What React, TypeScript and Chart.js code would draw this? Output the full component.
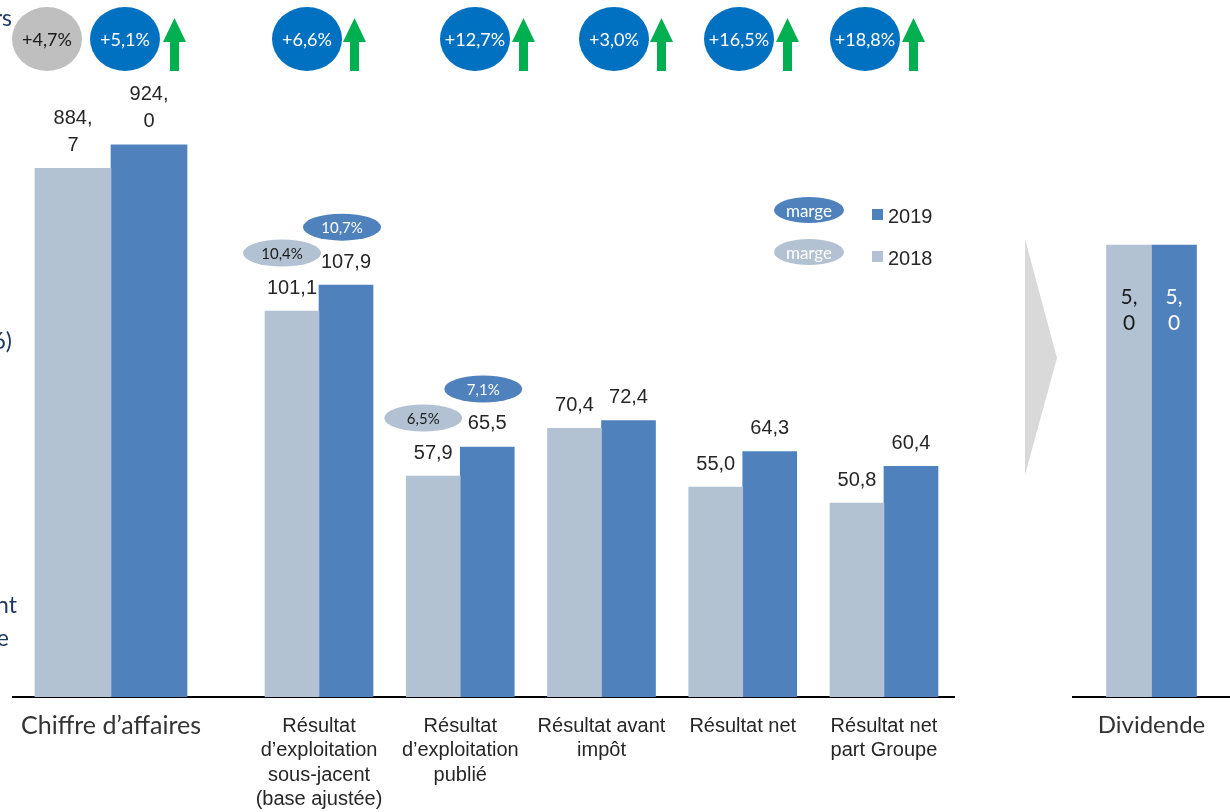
import React, { useEffect, useRef } from 'react';
import { Chart, registerables } from 'chart.js';

Chart.register(...registerables);

// ---------- data ----------
const caCategories = ['Chiffre d’affaires'];
const ca2018 = [884.7];
const ca2019 = [924.0];

const resultCategories = [
  ['Résultat', 'd’exploitation', 'sous-jacent', '(base ajustée)'],
  ['Résultat', 'd’exploitation', 'publié'],
  ['Résultat avant', 'impôt'],
  ['Résultat net'],
  ['Résultat net', 'part Groupe'],
];
const result2018 = [101.1, 57.9, 70.4, 55.0, 50.8];
const result2019 = [107.9, 65.5, 72.4, 64.3, 60.4];
const marge2018 = ['10,4%', '6,5%', null, null, null];
const marge2019 = ['10,7%', '7,1%', null, null, null];

const dividendCategories = ['Dividende'];
const dividend2018 = [5.0];
const dividend2019 = [5.0];

const growthPrevious = '+4,7%';
const growthLabels = ['+5,1%', '+6,6%', '+12,7%', '+3,0%', '+16,5%', '+18,8%'];

const seriesNames = ['2019', '2018'];

// ---------- styles / layout ----------
const C2018 = '#b3c2d3';
const C2019 = '#4f81bd';
const CIRCLE_BLUE = '#0070c0';
const CIRCLE_GREY = '#bfbfbf';
const GREEN = '#00b050';
const TEXT = '#262626';
const CAL = 'Lato, "Open Sans", sans-serif';
const ARIAL = '"Liberation Sans", Arial, sans-serif';

const growthCenters = [125, 307, 475, 614, 739, 865];
const arrowLefts = [163, 343, 512, 650, 776, 902];

const fmt = (v: number) => v.toFixed(1).replace('.', ',');

const barLabelsPlugin = {
  id: 'barLabels',
  afterDatasetsDraw(chart: any, _args: any, opts: any) {
    if (!opts || !opts.enabled) return;
    const ctx = chart.ctx;
    chart.data.datasets.forEach((ds: any, di: number) => {
      const meta = chart.getDatasetMeta(di);
      meta.data.forEach((bar: any, i: number) => {
        const v = ds.data[i];
        if (v == null) return;
        const text = fmt(v);
        const parts = text.split(',');
        const lines = opts.split ? [parts[0] + ',', parts[1]] : [text];
        ctx.save();
        ctx.font = opts.font;
        ctx.fillStyle = opts.colors ? opts.colors[di] : TEXT;
        ctx.textAlign = 'center';
        ctx.textBaseline = 'middle';
        const x = bar.x;
        const y = bar.y;
        if (opts.mode === 'above') {
          lines.forEach((ln: string, k: number) =>
            ctx.fillText(ln, x, y - opts.offset - (lines.length - 1 - k) * opts.lineHeight)
          );
        } else {
          lines.forEach((ln: string, k: number) =>
            ctx.fillText(ln, x, y + opts.offset + k * opts.lineHeight)
          );
        }
        const marges = opts.marges ? opts.marges[di] : null;
        if (marges && marges[i]) {
          const cx = x + opts.margeDx[di];
          const cy = y - 58;
          ctx.beginPath();
          ctx.ellipse(cx, cy, 39, 13.5, 0, 0, Math.PI * 2);
          ctx.fillStyle = opts.margeFill[di];
          ctx.fill();
          ctx.fillStyle = opts.margeText[di];
          ctx.font = '15px ' + CAL;
          ctx.fillText(marges[i], cx, cy + 1);
        }
        ctx.restore();
      });
    });
  },
};

function makeConfig(
  labels: any[],
  d2018: number[],
  d2019: number[],
  thickness: number,
  yMax: number,
  padLeft: number,
  padRight: number,
  tickFont: any,
  tickPadding: number,
  tickColor: string,
  labelOpts: any
): any {
  return {
    type: 'bar',
    data: {
      labels,
      datasets: [
        { label: '2018', data: d2018, backgroundColor: C2018, barThickness: thickness },
        { label: '2019', data: d2019, backgroundColor: C2019, barThickness: thickness },
      ],
    },
    plugins: [barLabelsPlugin],
    options: {
      responsive: false,
      animation: false,
      layout: { padding: { left: padLeft, right: padRight, top: 0, bottom: 0 } },
      plugins: {
        legend: { display: false },
        tooltip: { enabled: false },
        barLabels: labelOpts,
      },
      scales: {
        x: {
          grid: { display: false, drawTicks: false },
          border: { display: true, color: '#000', width: 2 },
          ticks: {
            font: tickFont,
            color: tickColor,
            padding: tickPadding,
            autoSkip: false,
            maxRotation: 0,
            minRotation: 0,
          },
          afterFit: (s: any) => {
            s.height = 115;
          },
        },
        y: { display: false, min: 0, max: yMax },
      },
    },
  };
}

function ChartCanvas({ left, width, config }: { left: number; width: number; config: any }) {
  const ref = useRef<HTMLCanvasElement>(null);
  useEffect(() => {
    if (!ref.current) return;
    const chart = new Chart(ref.current, config);
    return () => chart.destroy();
  }, []);
  return (
    <canvas
      ref={ref}
      width={width}
      height={812}
      style={{ position: 'absolute', left, top: 0, width, height: 812 }}
    />
  );
}

const caConfig = makeConfig(
  caCategories,
  ca2018,
  ca2019,
  76,
  1166.2,
  13,
  21,
  { family: CAL, size: 25, lineHeight: 1.2 },
  14,
  '#333333',
  { enabled: true, mode: 'above', split: true, offset: 23, lineHeight: 27, font: '20px ' + ARIAL }
);

const resultConfig = makeConfig(
  resultCategories,
  result2018,
  result2019,
  54,
  182.6,
  18.4,
  15.4,
  { family: ARIAL, size: 20, lineHeight: 1.22 },
  17,
  TEXT,
  {
    enabled: true,
    mode: 'above',
    split: false,
    offset: 23,
    lineHeight: 27,
    font: '20px ' + ARIAL,
    marges: [marge2018, marge2019],
    margeDx: [-10, -4],
    margeFill: [C2018, C2019],
    margeText: ['#1a1a1a', '#ffffff'],
  }
);

const dividendConfig = makeConfig(
  dividendCategories,
  dividend2018,
  dividend2019,
  45,
  7.71,
  13,
  0,
  { family: CAL, size: 24, lineHeight: 1.2 },
  14,
  '#333333',
  {
    enabled: true,
    mode: 'inside',
    split: true,
    offset: 52,
    lineHeight: 26,
    font: '21px ' + CAL,
    colors: ['#1a1a1a', '#ffffff'],
  }
);

function Circle({ cx, text, bg, color }: { cx: number; text: string; bg: string; color: string }) {
  return (
    <div
      style={{
        position: 'absolute',
        left: cx - 35,
        top: 7,
        width: 70,
        height: 64,
        borderRadius: '50%',
        background: bg,
        color,
        display: 'flex',
        alignItems: 'center',
        justifyContent: 'center',
        fontFamily: CAL,
        fontSize: 18,
      }}
    >
      {text}
    </div>
  );
}

function Fragment({ right, cy, text }: { right: number; cy: number; text: string }) {
  return (
    <div
      style={{
        position: 'absolute',
        left: right - 200,
        width: 200,
        top: cy - 15,
        height: 30,
        lineHeight: '30px',
        textAlign: 'right',
        fontFamily: CAL,
        fontSize: 23,
        color: '#1f3864',
        whiteSpace: 'nowrap',
      }}
    >
      {text}
    </div>
  );
}

export default function App() {
  const arrowPoints = (a: number) =>
    [
      [a, 42],
      [a + 11.5, 18],
      [a + 23, 42],
      [a + 16, 42],
      [a + 16, 71],
      [a + 7, 71],
      [a + 7, 42],
    ]
      .map((p) => p.join(','))
      .join(' ');

  return (
    <div
      style={{
        position: 'fixed',
        left: 0,
        top: 0,
        width: 1230,
        height: 812,
        overflow: 'hidden',
        background: '#ffffff',
      }}
    >
      <ChartCanvas left={0} width={230} config={caConfig} />
      <ChartCanvas left={230} width={740} config={resultConfig} />
      <ChartCanvas left={1060} width={170} config={dividendConfig} />

      {/* baseline joining the two left charts */}
      <div style={{ position: 'absolute', left: 208, top: 696, width: 42, height: 2, background: '#000' }} />

      <svg
        width={1230}
        height={812}
        style={{ position: 'absolute', left: 0, top: 0, pointerEvents: 'none' }}
      >
        {arrowLefts.map((a, i) => (
          <polygon key={i} points={arrowPoints(a)} fill={GREEN} />
        ))}
        <polygon points="1025,239 1057,358 1025,475" fill="#d9d9d9" />
      </svg>

      <Circle cx={47} text={growthPrevious} bg={CIRCLE_GREY} color="#1a1a1a" />
      {growthLabels.map((g, i) => (
        <Circle key={i} cx={growthCenters[i]} text={g} bg={CIRCLE_BLUE} color="#ffffff" />
      ))}

      {/* legend */}
      {seriesNames.map((name, i) => {
        const cy = i === 0 ? 210 : 252;
        const col = name === '2019' ? C2019 : C2018;
        return (
          <React.Fragment key={name}>
            <div
              style={{
                position: 'absolute',
                left: 774,
                top: cy - 13,
                width: 70,
                height: 26,
                borderRadius: '50%',
                background: col,
                color: '#fff',
                fontFamily: CAL,
                fontSize: 17,
                display: 'flex',
                alignItems: 'center',
                justifyContent: 'center',
              }}
            >
              marge
            </div>
            <div
              style={{
                position: 'absolute',
                left: 872,
                top: cy - 1,
                width: 11,
                height: 11,
                background: col,
              }}
            />
            <div
              style={{
                position: 'absolute',
                left: 888,
                top: cy - 9,
                height: 30,
                lineHeight: '30px',
                fontFamily: ARIAL,
                fontSize: 20,
                color: TEXT,
              }}
            >
              {name}
            </div>
          </React.Fragment>
        );
      })}

      <Fragment right={12} cy={17} text="rs" />
      <Fragment right={12} cy={340} text="6)" />
      <Fragment right={17} cy={604} text="nt" />
      <Fragment right={9} cy={637} text="e" />
    </div>
  );
}
